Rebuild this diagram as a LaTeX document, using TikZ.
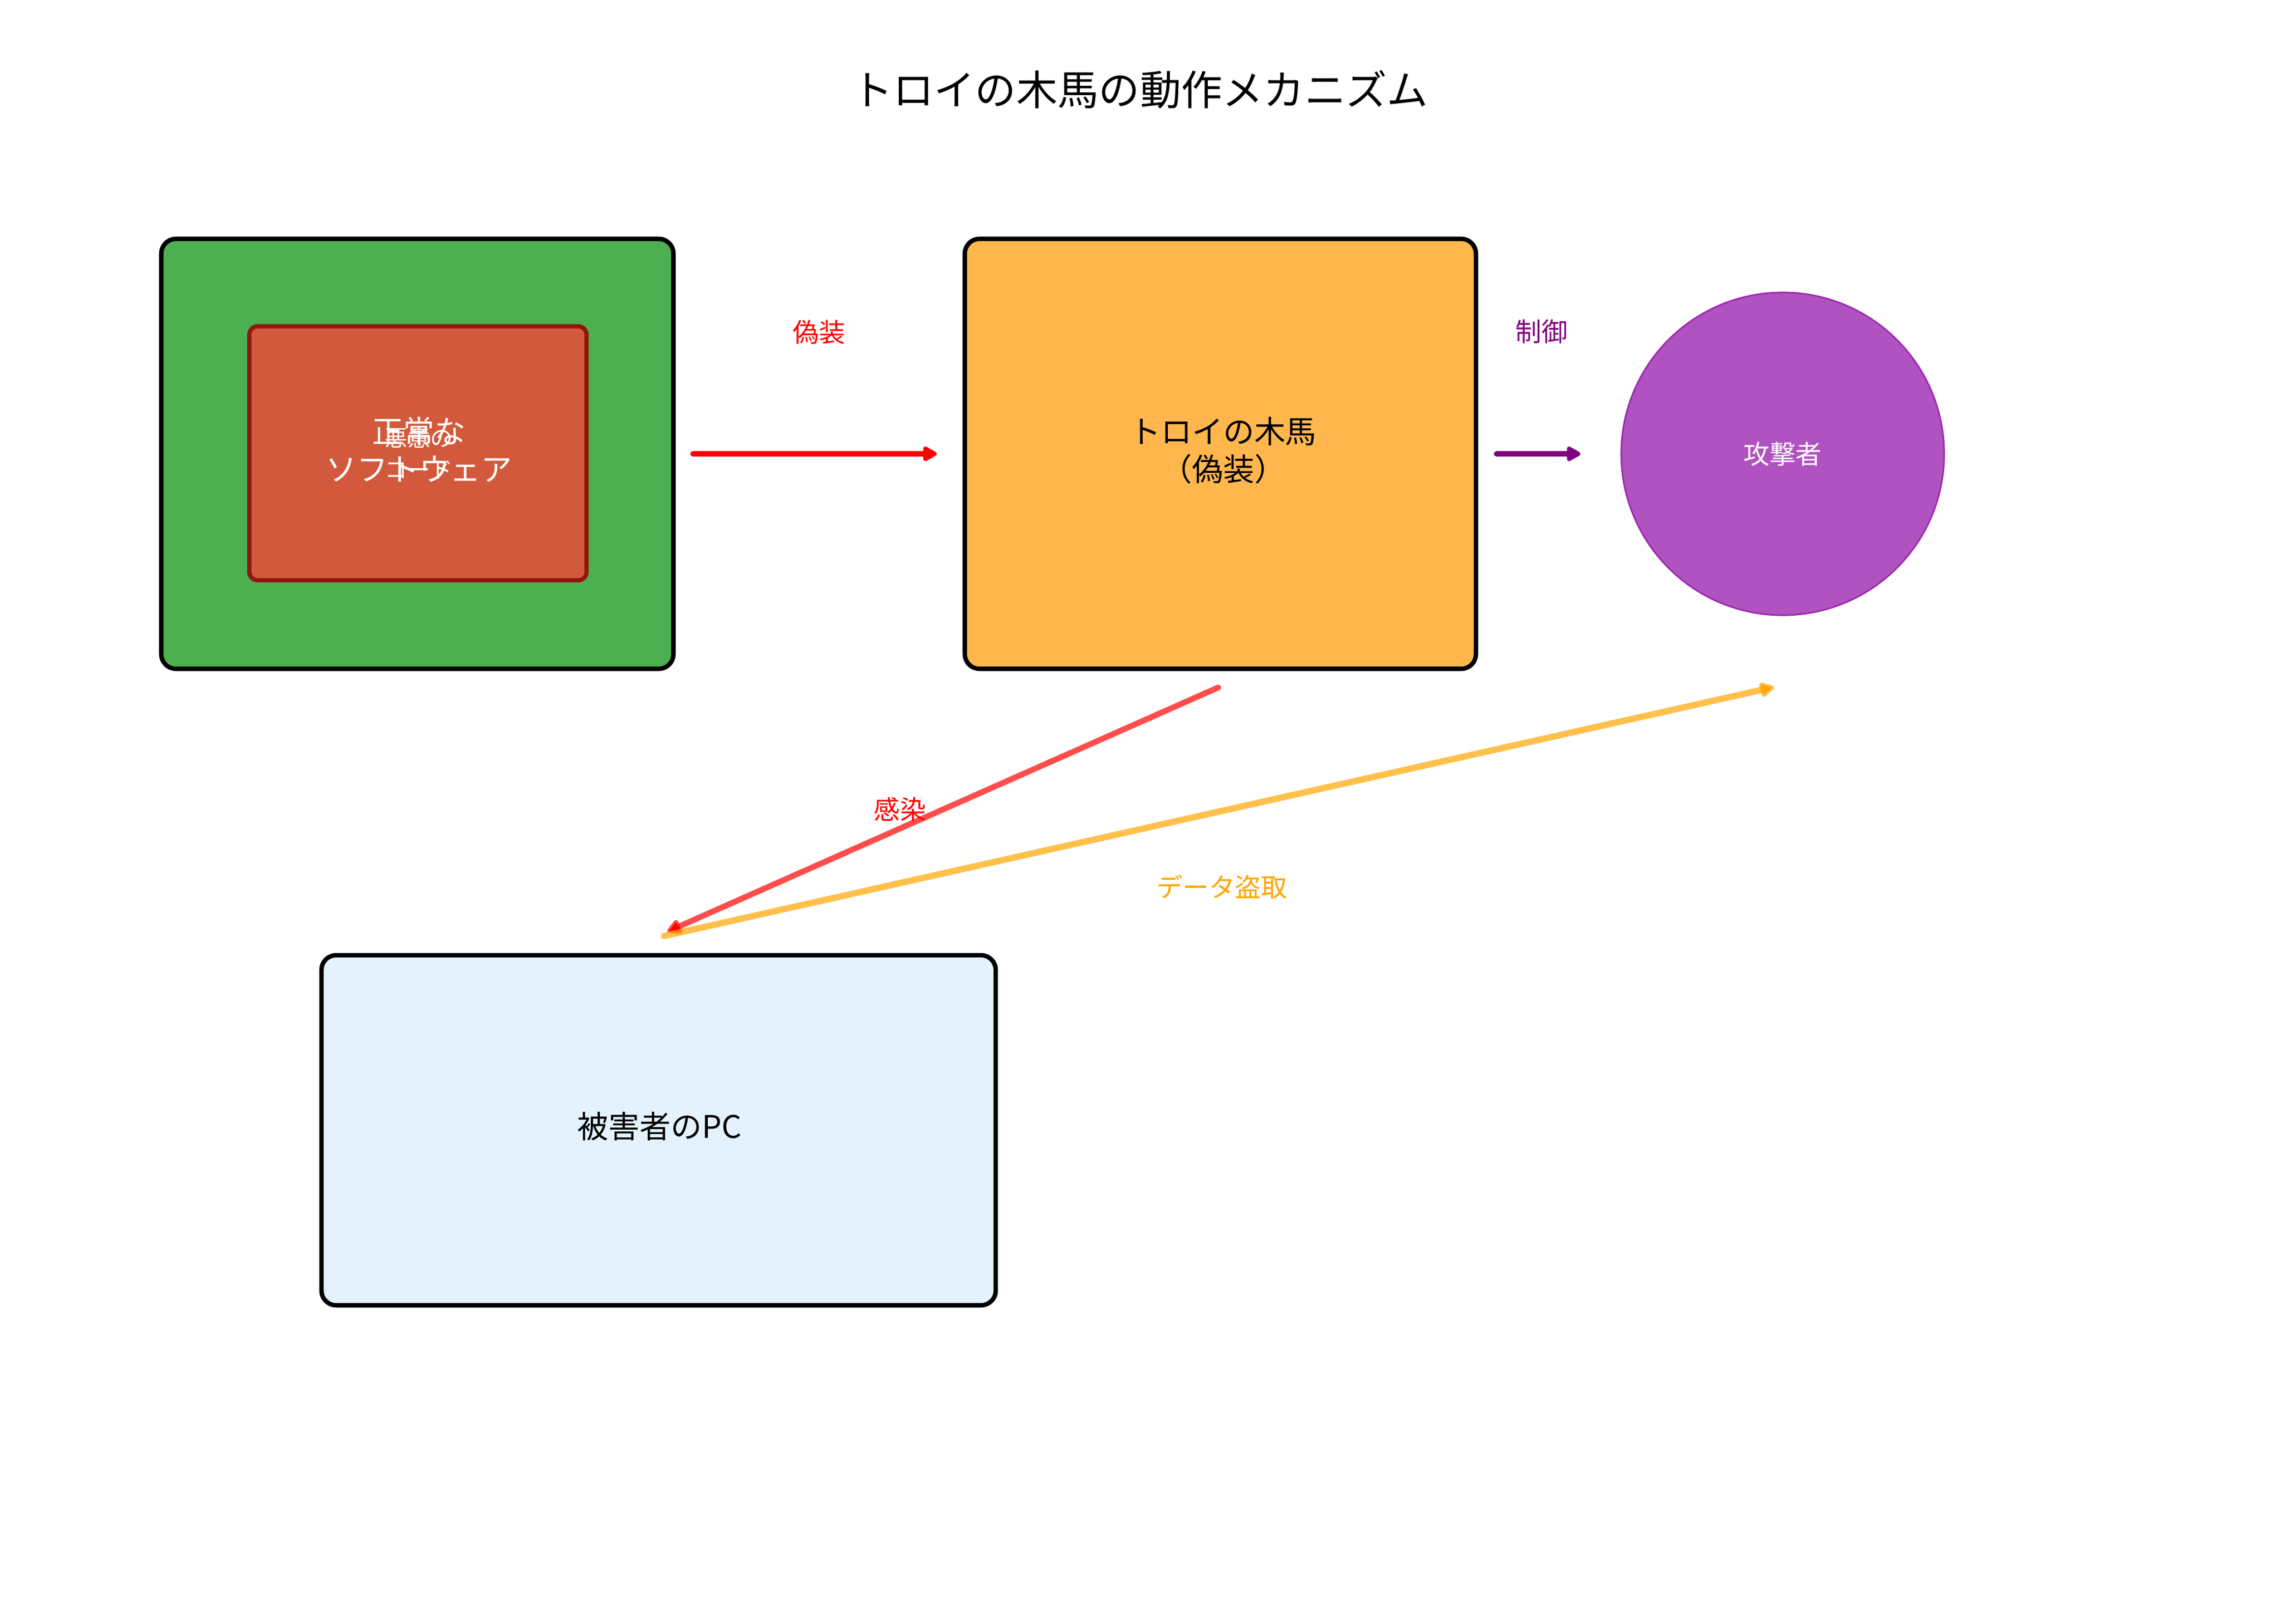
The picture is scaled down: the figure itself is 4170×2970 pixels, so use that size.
\documentclass[tikz,border=0pt]{standalone}
\usepackage{fontspec}
\setmainfont{Noto Sans CJK JP}
\usetikzlibrary{arrows.meta}
\definecolor{gfill}{HTML}{4CAF50}
\definecolor{rfill}{RGB}{210,89,59}
\definecolor{rdraw}{RGB}{145,22,14}
\definecolor{ofill}{HTML}{FFB74D}
\definecolor{pfill}{RGB}{176,82,192}
\definecolor{pdraw}{HTML}{9C27B0}
\definecolor{bfill}{HTML}{E3F2FD}
\definecolor{ctrlpurple}{HTML}{800080}
\definecolor{dataorange}{HTML}{FFA500}
\begin{document}
\begin{tikzpicture}[x=0.01cm,y=-0.01cm,
  bigbox/.style={rectangle, draw=black, line width=2.3pt, rounded corners=0.27cm,
    inner sep=0pt},
  boxtext/.style={font=\fontsize{16.2pt}{19.5pt}\selectfont, align=center, inner sep=0pt},
  lbl/.style={font=\fontsize{13.6pt}{16pt}\selectfont, inner sep=0pt},
  flowarrow/.style={line width=3.1pt, line cap=round,
    -{Triangle[length=0.29cm,width=0.30cm,round]}},
  diagarrow/.style={line width=3pt, line cap=round, draw opacity=0.7,
    -{Triangle[length=0.30cm,width=0.30cm,round]}}]
\useasboundingbox (0,0) rectangle (4170,2970);

% title
\node[font=\fontsize{21.4pt}{25pt}\selectfont, inner sep=0pt] (title) at (2084,164) {トロイの木馬の動作メカニズム};

% left: normal software containing malicious code
\node[bigbox, fill=gfill, minimum width=9.36cm, minimum height=7.86cm] (green) at (763,830) {};
\node[rectangle, draw=rdraw, line width=2.2pt, rounded corners=0.15cm, fill=rfill,
  minimum width=6.16cm, minimum height=4.64cm, inner sep=0pt] (inner) at (764,829) {};
\node[boxtext, text=white] (normaltxt) at (766,822) {正常な\\ソフトウェア};
\node[text=white, align=center, inner sep=0pt,
  font=\fontsize{11.8pt}{16.5pt}\selectfont] (malcode) at (766,829) {悪意の\\コード};

% trojan
\node[bigbox, fill=ofill, minimum width=9.34cm, minimum height=7.86cm] (trojan) at (2231,830) {};
\node[boxtext] (trojantxt) at (2236,824) {トロイの木馬\\（偽装）};

% attacker
\node[circle, draw=pdraw, line width=0.8pt, fill=pfill, minimum size=5.9cm,
  inner sep=0pt, text=white, font=\fontsize{13.6pt}{16pt}\selectfont] (attacker) at (3259,830) {攻撃者};

% victim
\node[bigbox, fill=bfill, minimum width=12.32cm, minimum height=6.40cm] (victim) at (1204,2067) {};
\node[boxtext] (victimtxt) at (1206,2060) {被害者のPC};

% connectors
\draw[flowarrow, red] ([xshift=0.32cm]green.east) -- ([xshift=-0.47cm]trojan.west);
\draw[flowarrow, ctrlpurple] ([xshift=0.34cm]trojan.east) -- ([xshift=-0.73cm]attacker.west);
\draw[diagarrow, red] ([xshift=-0.04cm,yshift=-0.30cm]trojan.south) -- ([xshift=0.16cm,yshift=0.39cm]victim.north);
\draw[diagarrow, dataorange, line width=3.3pt] ([xshift=0.10cm,yshift=0.31cm]victim.north) -- ([xshift=-0.16cm,yshift=-1.30cm]attacker.south);

% labels
\node[lbl, text=red] (l1) at (1497,607) {偽装};
\node[lbl, text=ctrlpurple] (l2) at (2818,606) {制御};
\node[lbl, text=red] (l3) at (1645,1480) {感染};
\node[lbl, text=dataorange] (l4) at (2234,1622) {データ盗取};
\end{tikzpicture}
\end{document}
